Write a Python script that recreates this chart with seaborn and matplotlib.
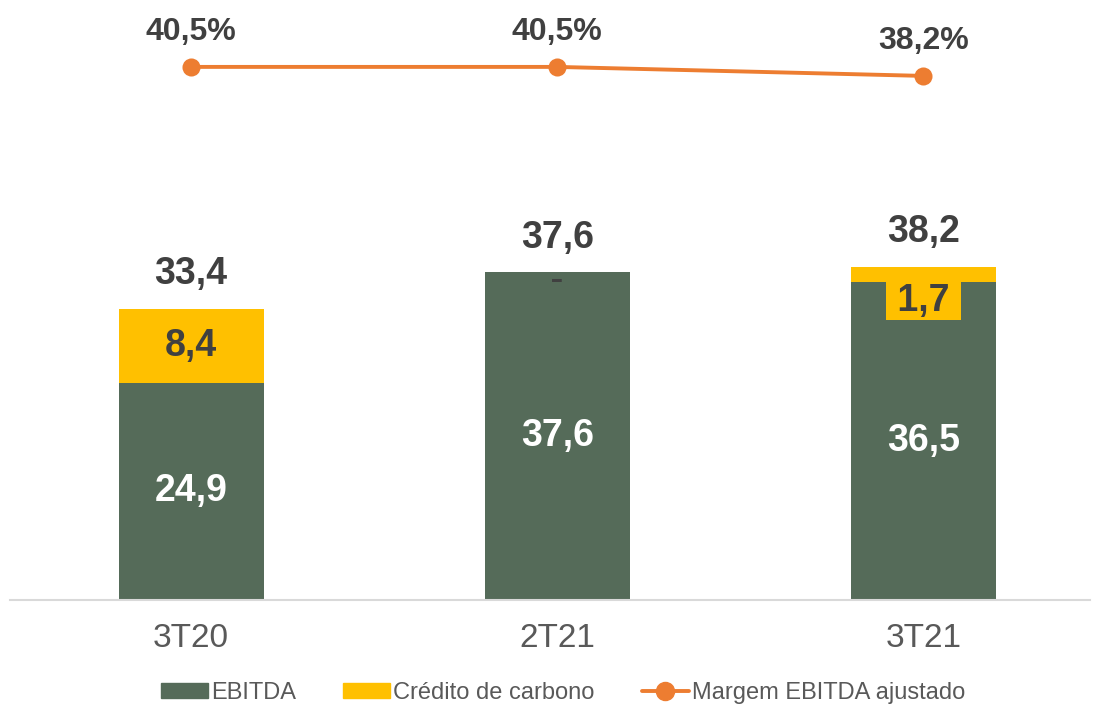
import matplotlib.pyplot as plt
import seaborn as sns
from matplotlib.patches import Patch
from matplotlib.lines import Line2D

sns.set_theme(style="white")
plt.rcParams['font.family'] = ['Liberation Sans', 'DejaVu Sans']

# dados
trimestres = ['3T20', '2T21', '3T21']
ebitda = [24.9, 37.6, 36.5]
credito = [8.4, 0.0, 1.7]
total = [33.4, 37.6, 38.2]
margem = [40.5, 40.5, 38.2]

verde = '#556B59'
amarelo = '#FFC000'
laranja = '#ED7D31'
texto = '#404040'

fig = plt.figure(figsize=(10.99, 7.04), dpi=100)
ax = fig.add_axes([0.009, 0.148, 0.983, 0.852])

# barras empilhadas: total (amarelo) por baixo, EBITDA (verde) por cima
sns.barplot(x=trimestres, y=total, color=amarelo, width=0.396, saturation=1, linewidth=0, ax=ax)
sns.barplot(x=trimestres, y=ebitda, color=verde, width=0.396, saturation=1, linewidth=0, ax=ax)

ax.set_xlim(-0.495, 2.456)
ax.set_ylim(0, 68.9)
ax.set_yticks([])
for s in ['top', 'right', 'left']:
    ax.spines[s].set_visible(False)
ax.spines['bottom'].set_color('#D9D9D9')
ax.spines['bottom'].set_linewidth(1.5)
ax.tick_params(axis='x', length=0, labelsize=24, labelcolor='#595959', pad=17)

# rótulos
for i in range(len(trimestres)):
    ax.text(i, total[i] + 4.0, f'{total[i]:.1f}'.replace('.', ','), ha='center', va='center',
            fontsize=27, fontweight='bold', color=texto)
    ax.text(i, ebitda[i] / 2, f'{ebitda[i]:.1f}'.replace('.', ','), ha='center', va='center',
            fontsize=27, fontweight='bold', color='white')
    if credito[i] > 5:
        ax.text(i, ebitda[i] + credito[i] / 2, f'{credito[i]:.1f}'.replace('.', ','), ha='center',
                va='center', fontsize=27, fontweight='bold', color=texto)
    elif credito[i] > 0:
        ax.text(i, total[i] - 3.9, ' ' + f'{credito[i]:.1f}'.replace('.', ',') + ' ', ha='center',
                va='center', fontsize=27, fontweight='bold', color=texto,
                bbox=dict(boxstyle='square,pad=0.03', fc=amarelo, ec='none'))
    else:
        ax.text(i, total[i] - 0.2, '▬', ha='center', va='top', fontsize=7, color=texto)

# margem EBITDA no eixo secundário
ax2 = ax.twinx()
sns.lineplot(x=trimestres, y=margem, color=laranja, linewidth=2.8, marker='o', markersize=13,
             markeredgewidth=0, sort=False, ax=ax2)
ax2.set_ylim(-95.7, 57.6)
ax2.set_yticks([])
for s in ['top', 'right', 'left', 'bottom']:
    ax2.spines[s].set_visible(False)
for i in range(len(trimestres)):
    ax2.text(i, margem[i] + 8.8, f'{margem[i]:.1f}%'.replace('.', ','), ha='center', va='center',
             fontsize=23, fontweight='bold', color=texto)

handles = [Patch(color=verde, label='EBITDA'),
           Patch(color=amarelo, label='Crédito de carbono'),
           Line2D([0], [0], color=laranja, linewidth=2.8, marker='o', markersize=13,
                  label='Margem EBITDA ajustado')]
fig.legend(handles=handles, loc='lower center', bbox_to_anchor=(0.512, -0.03), ncol=3, frameon=False,
           fontsize=17, labelcolor='#595959', handlelength=2.0, handleheight=0.6,
           columnspacing=2.0, handletextpad=0.12)

fig.savefig('out.png', dpi=100)
